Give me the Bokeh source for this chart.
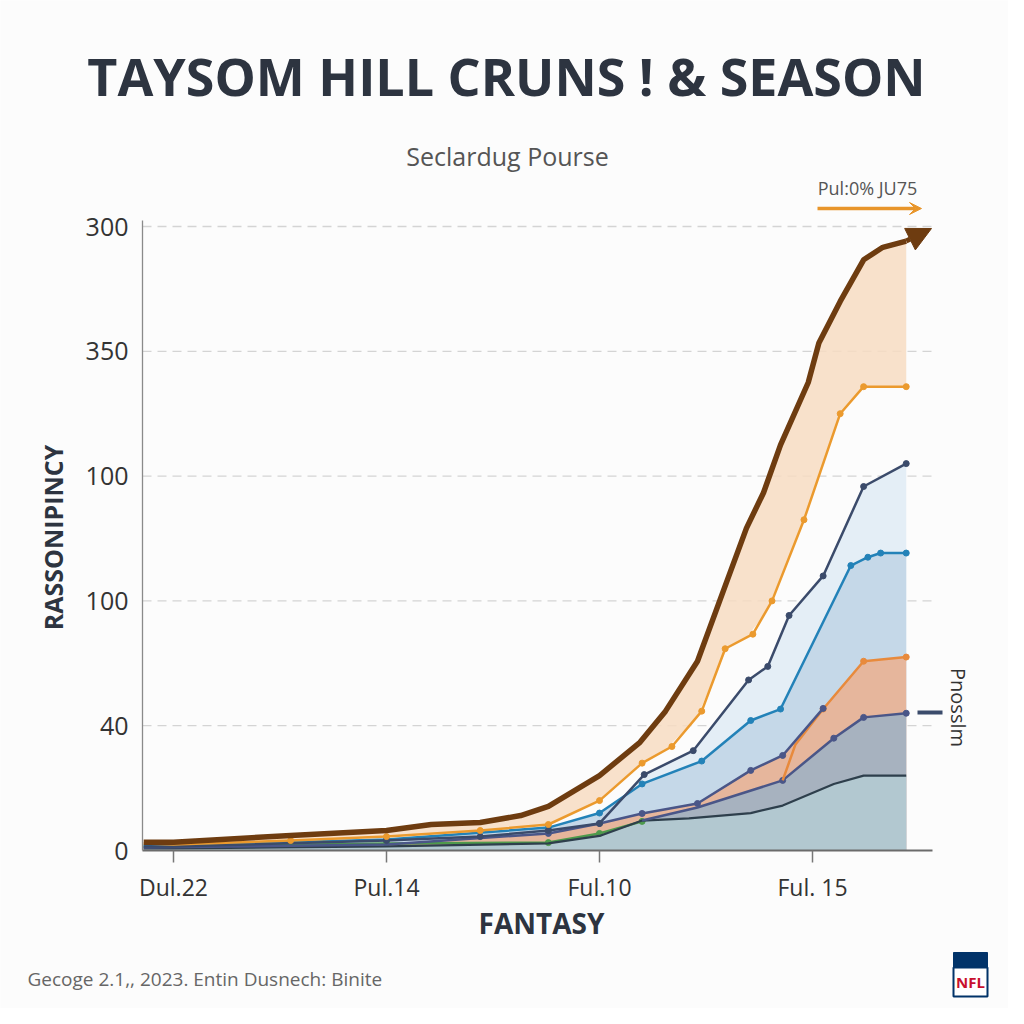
import math
from bokeh.plotting import figure
from bokeh.models import Label, Arrow, NormalHead, VeeHead, FixedTicker, Range1d, LinearAxis
from bokeh.embed import file_html
from bokeh.resources import INLINE

# ---------------- data ----------------
title_text = "TAYSOM HILL CRUNS ! & SEASON"
subtitle_text = "Seclardug Pourse"
footer_text = "Gecoge 2.1,, 2023.  Entin Dusnech: Binite"
x_tick_pos = [0, 1, 2, 3]
x_tick_labels = ["Dul.22", "Pul.14", "Ful.10", "Ful. 15"]
y_tick_pos = [0, 60, 120, 180, 240, 300]
y_tick_labels = ["0", "40", "100", "100", "350", "300"]

brown_x = [-0.14, 0.0, 0.55, 1.0, 1.21, 1.44, 1.63, 1.76, 2.0, 2.19, 2.31, 2.46, 2.60, 2.69, 2.77, 2.85, 2.98, 3.03, 3.13, 3.24, 3.33, 3.44]
brown_y = [4.0, 4.0, 7.2, 9.6, 12.5, 13.5, 16.8, 21.2, 36, 52, 67, 91, 130, 155, 172, 195, 225, 244, 264, 284, 290, 293]

orange_x = [-0.14, 0.0, 0.55, 1.0, 1.44, 1.76, 2.0, 2.2, 2.34, 2.48, 2.59, 2.72, 2.81, 2.96, 3.13, 3.24, 3.44]
orange_y = [3.4, 2.9, 4.8, 6.7, 9.6, 12.5, 24, 42, 50, 67, 97, 104, 120, 159, 210, 223, 223]

navy_x = [-0.14, 0.0, 1.0, 1.44, 1.76, 2.0, 2.21, 2.44, 2.70, 2.79, 2.89, 3.05, 3.24, 3.44]
navy_y = [1.9, 1.9, 4.8, 6.7, 9.6, 13, 36.5, 48, 82, 88.5, 113, 132, 175, 186]

blue_x = [-0.14, 0.0, 1.0, 1.76, 2.0, 2.2, 2.48, 2.71, 2.85, 3.18, 3.26, 3.32, 3.44]
blue_y = [2.4, 2.4, 5.3, 11, 18, 32, 43, 62.5, 68, 137, 141, 143, 143]

slate_x = [-0.14, 1.0, 1.76, 2.0, 2.2, 2.46, 2.71, 2.86, 3.05]
slate_y = [1.4, 2.9, 8.2, 13, 17.8, 22.6, 38.5, 45.7, 68.3]

coral_x = [2.86, 2.92, 3.05, 3.24, 3.44]
coral_y = [33.7, 51, 68, 91, 93]

navy2_x = [2.2, 2.46, 2.86, 3.1, 3.24, 3.44]
navy2_y = [14.4, 20.7, 33.7, 54, 64, 66]

dark_x = [-0.14, 0.0, 1.0, 1.76, 2.0, 2.2, 2.42, 2.71, 2.86, 3.1, 3.24, 3.44]
dark_y = [1.0, 1.0, 2.0, 3.4, 7.0, 14.4, 15.4, 18, 21.6, 32, 36, 36]

green_x = [-0.14, 0.0, 1.0, 1.76, 2.0, 2.2]
green_y = [1.9, 1.9, 3.4, 3.8, 8.2, 14.0]

# ---------------- layout helpers (canvas pixels -> data) ----------------
W = H = 1008
PX_PER_X = 213.0          # pixels per x unit
X0_PX = 173.0             # pixel of x = 0
Y0_PX = 850.0             # pixel of y = 0
PX_PER_Y = 124.8 / 60.0   # pixels per y unit

def dx(px):
    return (px - X0_PX) / PX_PER_X

def dy(py):
    return (Y0_PX - py) / PX_PER_Y

def interp(xs, ys, xq):
    out = []
    for q in xq:
        for i in range(len(xs) - 1):
            if xs[i] <= q <= xs[i + 1]:
                t = (q - xs[i]) / (xs[i + 1] - xs[i])
                out.append(ys[i] + t * (ys[i + 1] - ys[i]))
                break
    return out

BG = "#fcfcfc"
p = figure(width=W, height=H, output_backend="svg", toolbar_location=None,
           x_range=Range1d(dx(0), dx(W)), y_range=Range1d(dy(H), dy(0)),
           x_axis_location=None, y_axis_location=None,
           min_border=0, background_fill_color=BG, border_fill_color=BG, outline_line_color=None)
p.grid.visible = False

PLOT_L, PLOT_R, PLOT_T = dx(142), dx(932), dy(220)

# axes (drawn at fixed locations inside the full-canvas frame)
xaxis = LinearAxis(fixed_location=0, bounds=(PLOT_L, PLOT_R), ticker=FixedTicker(ticks=x_tick_pos),
                   major_label_overrides={k: v for k, v in zip(x_tick_pos, x_tick_labels)})
yaxis = LinearAxis(fixed_location=PLOT_L, bounds=(0, PLOT_T), ticker=FixedTicker(ticks=y_tick_pos),
                   major_label_overrides={k: v for k, v in zip(y_tick_pos, y_tick_labels)})
p.add_layout(xaxis, "below")
p.add_layout(yaxis, "left")
xaxis.major_label_text_font = "Open Sans"
yaxis.major_label_text_font = "Open Sans"
xaxis.major_label_text_font_size = "23px"
yaxis.major_label_text_font_size = "25px"
xaxis.major_label_text_color = "#333333"
yaxis.major_label_text_color = "#333333"
xaxis.major_tick_out = 12
xaxis.major_tick_in = 0
xaxis.major_tick_line_color = "#777777"
xaxis.major_tick_line_width = 1.5
xaxis.minor_tick_line_color = None
yaxis.major_tick_out = 0
yaxis.major_tick_in = 0
yaxis.major_tick_line_color = None
yaxis.minor_tick_line_color = None
xaxis.axis_line_color = "#6b6b6b"
xaxis.axis_line_width = 2
yaxis.axis_line_color = "#8a8a8a"
yaxis.axis_line_width = 1.3
xaxis.major_label_standoff = 8
yaxis.major_label_standoff = 14

# dashed horizontal grid lines at the y ticks
grid_y = y_tick_pos[1:]
p.segment(x0=[PLOT_L] * len(grid_y), x1=[PLOT_R] * len(grid_y), y0=grid_y, y1=grid_y,
          line_color="#d4d4d4", line_dash="9 6", line_width=1.3)

# fills
p.varea(x=brown_x, y1=interp(orange_x, orange_y, brown_x), y2=brown_y, fill_color="#f7dcc2", fill_alpha=0.85)
p.varea(x=navy_x, y1=[0] * len(navy_x), y2=navy_y, fill_color="#e4eef6", fill_alpha=1.0)
p.varea(x=blue_x, y1=[0] * len(blue_x), y2=blue_y, fill_color="#c5d8e8", fill_alpha=1.0)
p.varea(x=slate_x, y1=[0] * len(slate_x), y2=slate_y, fill_color="#e6b69c", fill_alpha=1.0)
p.varea(x=coral_x, y1=[0] * len(coral_x), y2=coral_y, fill_color="#e6b69c", fill_alpha=1.0)
p.varea(x=navy2_x, y1=[0] * len(navy2_x), y2=navy2_y, fill_color="#a7b2bf", fill_alpha=1.0)
p.varea(x=dark_x, y1=[0] * len(dark_x), y2=dark_y, fill_color="#b2c8d0", fill_alpha=1.0)

# lines
def series(xs, ys, color, width, marker=True, msize=6):
    p.line(xs, ys, line_color=color, line_width=width, line_join="round")
    if marker:
        p.scatter(xs[2:], ys[2:], size=msize, fill_color=color, line_color=color)

series(green_x, green_y, "#4e9a4c", 2.5)
series(dark_x, dark_y, "#2e3f4c", 2.2, marker=False)
series(navy2_x, navy2_y, "#4a5688", 2.5)
series(coral_x, coral_y, "#e88a3c", 2.5)
series(slate_x, slate_y, "#4a5688", 2.5)
series(blue_x, blue_y, "#2382b8", 2.5)
series(navy_x, navy_y, "#3b4b6b", 2.5)
series(orange_x, orange_y, "#eb9a2e", 2.5)
p.line(brown_x, brown_y, line_color="#6e3c10", line_width=5.5, line_join="round")

# brown arrow head
p.add_layout(Arrow(x_start=brown_x[-1], y_start=brown_y[-1], x_end=dx(931), y_end=dy(228),
                   line_color="#6e3c10", line_width=5,
                   end=NormalHead(size=24, fill_color="#6e3c10", line_color="#6e3c10")))

# legend-like note
p.add_layout(Label(x=dx(867), y=dy(187), text="Pul:0% JU75", text_align="center", text_baseline="middle",
                   text_font="Open Sans", text_font_size="18px", text_color="#555555"))
p.add_layout(Arrow(x_start=dx(817), y_start=dy(208), x_end=dx(921), y_end=dy(208),
                   line_color="#e8952a", line_width=3.5,
                   end=VeeHead(size=12, fill_color="#e8952a", line_color="#e8952a")))

# right side marker + label
p.add_layout(Arrow(x_start=dx(917), y_start=dy(712), x_end=dx(942), y_end=dy(712),
                   line_color="#3b4b6b", line_width=4, end=None))
p.add_layout(Label(x=dx(958), y=dy(707), text="Pnosslm", angle=-math.pi / 2,
                   text_align="center", text_baseline="middle",
                   text_font="Open Sans", text_font_size="20px", text_color="#333333"))

# titles
p.add_layout(Label(x=dx(506), y=dy(75), text=title_text, text_align="center", text_baseline="middle",
                   text_font="Open Sans", text_font_size="52px", text_font_style="bold", text_color="#2d3440"))
p.add_layout(Label(x=dx(507), y=dy(155), text=subtitle_text, text_align="center", text_baseline="middle",
                   text_font="Open Sans", text_font_size="25px", text_color="#555555"))
p.add_layout(Label(x=dx(52), y=dy(537), text="RASSONIPINCY", angle=math.pi / 2,
                   text_align="center", text_baseline="middle",
                   text_font="Open Sans", text_font_size="25px", text_font_style="bold", text_color="#2d3440"))
p.add_layout(Label(x=dx(541), y=dy(922), text="FANTASY", text_align="center", text_baseline="middle",
                   text_font="Open Sans", text_font_size="28px", text_font_style="bold", text_color="#2d3440"))
p.add_layout(Label(x=dx(27), y=dy(978), text=footer_text, text_align="left", text_baseline="middle",
                   text_font="Open Sans", text_font_size="19px", text_color="#666666"))

# small NFL-style shield
p.quad(left=[dx(953)], right=[dx(987)], top=[dy(952)], bottom=[dy(967)], fill_color="#013369", line_color="#013369")
p.quad(left=[dx(953)], right=[dx(987)], top=[dy(967)], bottom=[dy(996)], fill_color="white", line_color="#013369", line_width=2)
p.add_layout(Label(x=dx(970), y=dy(981), text="NFL", text_align="center", text_baseline="middle",
                   text_font="Open Sans", text_font_size="15px", text_font_style="bold", text_color="#c8102e"))

open("out.html", "w").write(file_html(p, INLINE))
